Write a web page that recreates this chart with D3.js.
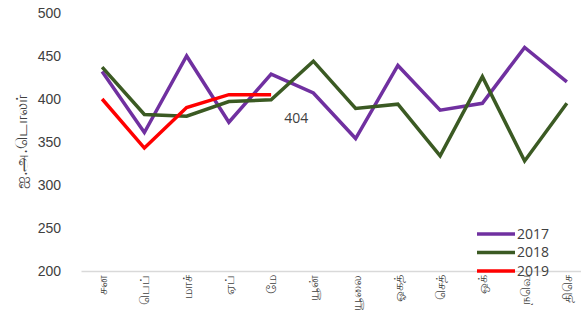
<!DOCTYPE html>
<html>
<head>
<meta charset="utf-8">
<script src="https://cdn.jsdelivr.net/npm/d3@7"></script>
<style>
  body { margin: 0; background: #fff; }
  svg { display: block; font-family: "Open Sans", "Noto Sans", sans-serif; }
</style>
</head>
<body>
<script>
// மாதங்கள்
const months = ['சன', 'பெப்', 'மாச்', 'ஏப்', 'மே', 'யூன்', 'யூலை', 'ஓகத்', 'செத்', 'ஒக்', 'நவெ', 'திசெ'];
const y2017 = [432, 361, 450, 373, 429, 407, 354, 439, 387, 395, 460, 420];
const y2018 = [437, 382, 380, 397, 399, 444, 389, 394, 334, 426, 328, 395];
const y2019 = [400, 343, 390, 405, 405];
const yTicks = [200, 250, 300, 350, 400, 450, 500];

const series = [
  { name: '2017', values: y2017, color: '#7030A0' },
  { name: '2018', values: y2018, color: '#3B5A23' },
  { name: '2019', values: y2019, color: '#FF0000' }
];

const W = 581, H = 311;
const svg = d3.select('body').append('svg').attr('width', W).attr('height', H);

const x = d3.scalePoint().domain(months).range([81, 588]).padding(0.5);
const y = d3.scaleLinear().domain([200, 500]).range([271, 13]);

// x axis
const xAxisG = svg.append('g').attr('transform', 'translate(0,271)')
  .call(d3.axisBottom(x).tickSize(0).tickSizeOuter(0));
xAxisG.select('.domain').attr('stroke', '#d9d9d9').attr('stroke-width', 1.3);
xAxisG.selectAll('.tick text')
  .attr('transform', 'rotate(-90)')
  .attr('x', -4).attr('y', 0).attr('dy', '0.35em')
  .attr('text-anchor', 'end')
  .attr('font-size', 13).attr('fill', '#404040');

// y axis
const yAxisG = svg.append('g').attr('transform', 'translate(81,0)')
  .call(d3.axisLeft(y).tickValues(yTicks).tickSize(0).tickPadding(20));
yAxisG.select('.domain').remove();
yAxisG.selectAll('.tick text').attr('font-size', 14).attr('fill', '#404040');

svg.append('text').text('ஐ.அ.டொலர்')
  .attr('transform', 'translate(21,142) rotate(-90)')
  .attr('text-anchor', 'middle').attr('dy', '0.35em')
  .attr('font-size', 16).attr('fill', '#404040');

// lines
const line = d3.line().x((d, i) => x(months[i])).y(d => y(d));
svg.selectAll('path.series').data(series).enter()
  .append('path').attr('class', 'series')
  .attr('d', d => line(d.values))
  .attr('fill', 'none')
  .attr('stroke', d => d.color)
  .attr('stroke-width', 3.5)
  .attr('stroke-linejoin', 'miter');

// data label
svg.append('text').text('404')
  .attr('x', (x(months[4]) + x(months[5])) / 2 + 4)
  .attr('y', y(405) + 28)
  .attr('text-anchor', 'middle')
  .attr('font-size', 14).attr('fill', '#404040');

// legend
const lg = svg.append('g').attr('transform', 'translate(477,234)');
series.forEach((s, i) => {
  const row = lg.append('g').attr('transform', `translate(0,${i * 18.5})`);
  row.append('line').attr('x1', 0).attr('x2', 38).attr('stroke', s.color).attr('stroke-width', 3.5);
  row.append('text').text(s.name).attr('x', 40).attr('dy', '0.35em')
    .attr('font-size', 14).attr('fill', '#404040');
});
</script>
</body>
</html>
